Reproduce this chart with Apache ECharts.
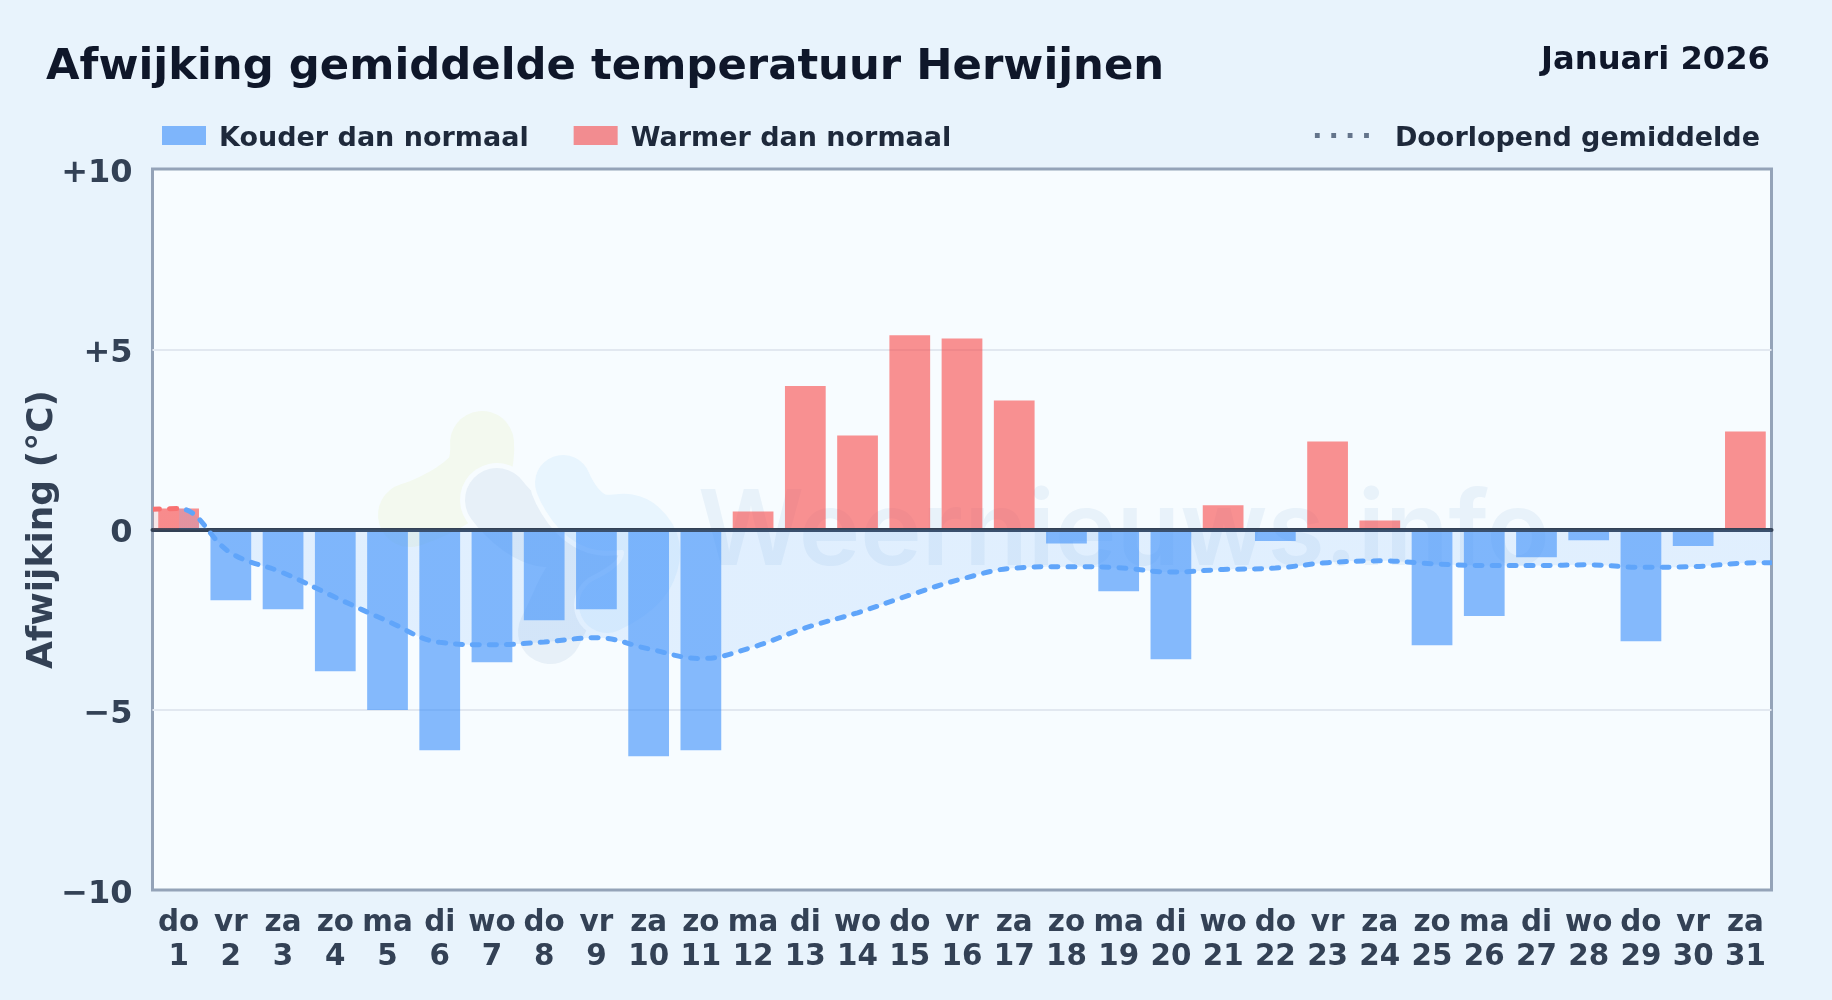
<!DOCTYPE html>
<html>
<head>
<meta charset="utf-8">
<style>html,body{margin:0;padding:0;background:#e8f3fc}#c{width:1832px;height:1000px}</style>
<script src="https://cdn.jsdelivr.net/npm/echarts@6/dist/echarts.min.js"></script>
</head>
<body>
<div id="c"></div>
<script>
const weekdays = ['do','vr','za','zo','ma','di','wo','do','vr','za','zo','ma','di','wo','do','vr','za','zo','ma','di','wo','do','vr','za','zo','ma','di','wo','do','vr','za'];
const days = [1,2,3,4,5,6,7,8,9,10,11,12,13,14,15,16,17,18,19,20,21,22,23,24,25,26,27,28,29,30,31];
const deviation = [0.58,-1.96,-2.21,-3.93,-5.01,-6.12,-3.68,-2.52,-2.21,-6.29,-6.12,0.5,3.98,2.61,5.39,5.3,3.58,-0.39,-1.71,-3.6,0.67,-0.32,2.44,0.25,-3.21,-2.4,-0.77,-0.3,-3.1,-0.46,2.72];
const meanX = [0.5,1,2,3,4,5,6,7,8,9,10,11,12,13,14,15,16,17,18,19,20,21,22,23,24,25,26,27,28,29,30,31,31.5];
const runningMean = [0.56,0.58,-0.65,-1.2,-1.88,-2.54,-3.13,-3.2,-3.12,-3.0,-3.31,-3.58,-3.26,-2.73,-2.31,-1.82,-1.37,-1.07,-1.03,-1.06,-1.18,-1.11,-1.07,-0.92,-0.87,-0.95,-1.0,-1.0,-0.98,-1.05,-1.03,-0.93,-0.92];
const yTicks = {'10':'+10','5':'+5','0':'0','-5':'\u22125','-10':'\u221210'};

const FONT = '"DejaVu Sans"';
const cold = deviation.map(v => v < 0 ? v : null);
const warm = deviation.map(v => v >= 0 ? v : null);
const blob = (points, color, lineWidth) => ({
  type:'polyline', silent:true,
  shape:{points, smooth:0.5},
  style:{stroke:color, fill:null, lineWidth, lineCap:'round', lineJoin:'round'}
});
const BG = '#f7fcff';
const legendRich = {t:{fontFamily:FONT, fontWeight:'bold', fontSize:27, color:'#1e293b', lineHeight:33, verticalAlign:'bottom'}};
const chart = echarts.init(document.getElementById('c'), null, {renderer:'canvas'});
chart.setOption({
  animation:false,
  backgroundColor:'#e8f3fc',
  textStyle:{fontFamily:FONT},
  title:[
    {text:'Afwijking gemiddelde temperatuur Herwijnen', left:46, top:46, padding:0,
     textStyle:{fontFamily:FONT, fontWeight:'bold', fontSize:43.35, color:'#0f172a'}},
    {text:'Januari 2026', right:62, top:45, padding:0,
     textStyle:{fontFamily:FONT, fontWeight:'bold', fontSize:32.2, color:'#0f172a'}}
  ],
  legend:[
    {left:162, top:125, padding:0, itemWidth:44, itemHeight:19, itemGap:45, selectedMode:false, icon:'rect',
     formatter:n=>'{t|'+n+'}',
     textStyle:{padding:[0,0,0,8], rich:legendRich},
     data:['Kouder dan normaal','Warmer dan normaal']},
    {right:72, top:125, padding:0, itemWidth:54, itemHeight:5, selectedMode:false,
     formatter:n=>'{t|'+n+'}',
     textStyle:{padding:[0,0,0,21], rich:legendRich},
     itemStyle:{color:'#64748b', opacity:1},
     data:[{name:'Doorlopend gemiddelde', icon:'path://M0 0h5v5h-5z M17 0h5v5h-5z M34 0h5v5h-5z M51 0h5v5h-5z'}]}
  ],
  grid:{left:152.5, right:60.5, top:169, bottom:110, show:true, backgroundColor:BG, borderColor:'#94a3b8', borderWidth:3, containLabel:false},
  xAxis:[
    {type:'category', data:days.map((d,i)=>weekdays[i]+'\n'+d), boundaryGap:true, position:'bottom',
     axisLine:{show:false, onZero:false}, axisTick:{show:false}, splitLine:{show:false},
     axisLabel:{interval:0, margin:16, fontFamily:FONT, fontWeight:'bold', fontSize:29.4, lineHeight:34, color:'#334155', hideOverlap:false}},
    {type:'value', min:0.5, max:31.5, z:3,
     axisLine:{show:true, onZero:true, lineStyle:{color:'#334155', width:4}},
     axisTick:{show:false}, axisLabel:{show:false}, splitLine:{show:false}}
  ],
  yAxis:{type:'value', min:-10, max:10, interval:5,
    name:'Afwijking (\u00B0C)', nameLocation:'middle', nameGap:92, nameRotate:90, nameMoveOverlap:false,
    nameTextStyle:{fontFamily:FONT, fontWeight:'bold', fontSize:36, color:'#334155'},
    axisLine:{show:false}, axisTick:{show:false},
    splitLine:{show:true, showMinLine:false, showMaxLine:false, lineStyle:{color:'#e2e8f0', width:2}},
    axisLabel:{margin:20, formatter:v=>'{t|'+yTicks[String(v)]+'}',
      rich:{t:{fontFamily:FONT, fontWeight:'bold', fontSize:32, color:'#334155', lineHeight:41, verticalAlign:'bottom'}}}},
  visualMap:{show:false, type:'piecewise', seriesIndex:2, dimension:0, pieces:[{min:0.5,max:1,color:'#f87171'},{min:1,max:31.5,color:'#60a5fa'}]},
  graphic:{z:1, elements:[
    blob([[482,443],[472,480],[410,515]],'#f3f9ef',64),
    blob([[497,500],[535,532],[590,540],[565,600],[550,632]],BG,74),
    blob([[497,500],[535,532],[590,540],[565,600],[550,632]],'#e7f0f8',64),
    blob([[563,483],[590,518],[640,528],[648,570],[607,605]],BG,66),
    blob([[563,483],[590,518],[640,528],[648,570],[607,605]],'#e8f5fe',56),
    {type:'text', silent:true, x:698, y:482,
     style:{text:'Weernieuws.info', fontFamily:'Inter', fontWeight:600, fontSize:104, fill:'#e8f2fa', textBaseline:'top'}}
  ]},
  series:[
    {name:'Kouder dan normaal', type:'bar', xAxisIndex:0, data:cold, barWidth:'78%', barGap:'-100%', z:2,
     itemStyle:{color:'rgba(55,140,250,0.6)'}},
    {name:'Warmer dan normaal', type:'bar', xAxisIndex:0, data:warm, barWidth:'78%', barGap:'-100%', z:2,
     itemStyle:{color:'rgba(248,72,72,0.6)'}},
    {name:'Doorlopend gemiddelde', type:'line', xAxisIndex:1, z:4, smooth:0.4, symbol:'none',
     data:meanX.map((x,i)=>[x,runningMean[i]]),
     lineStyle:{width:5, type:[7,10], cap:'round'},
     areaStyle:{opacity:0.15, origin:0}}
  ]
});
</script>
</body>
</html>
